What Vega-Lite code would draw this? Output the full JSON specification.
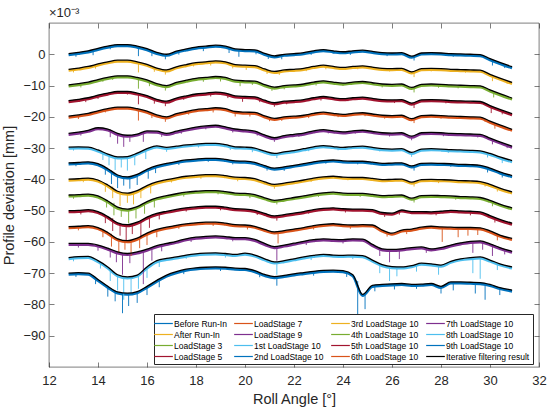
{
  "$schema": "https://vega.github.io/schema/vega-lite/v6.json",
  "width": 490,
  "height": 344,
  "autosize": {"type": "none"},
  "padding": {"left": 49, "top": 23, "right": 11, "bottom": 44},
  "background": "white",
  "title": {"text": "×10⁻³", "anchor": "start", "frame": "group", "offset": 3, "fontSize": 13, "fontWeight": "normal", "font": "Liberation Sans", "color": "#262626"},
  "datasets": {
    "names": [
      {"s": "a", "n": "Before Run-In"}, {"s": "b", "n": "After Run-In"}, {"s": "c", "n": "LoadStage 3"},
      {"s": "d", "n": "LoadStage 5"}, {"s": "e", "n": "LoadStage 7"}, {"s": "f", "n": "LoadStage 9"},
      {"s": "g", "n": "1st LoadStage 10"}, {"s": "h", "n": "2nd LoadStage 10"}, {"s": "i", "n": "3rd LoadStage 10"},
      {"s": "j", "n": "4th LoadStage 10"}, {"s": "k", "n": "5th LoadStage 10"}, {"s": "l", "n": "6th LoadStage 10"},
      {"s": "m", "n": "7th LoadStage 10"}, {"s": "n", "n": "8th LoadStage 10"}, {"s": "o", "n": "9th LoadStage 10"}
    ],
    "curves": [
      {"s":"a","x":12.8,"f":0.2},{"s":"a","x":13.2,"f":0.6},{"s":"a","x":13.6,"f":1.1},{"s":"a","x":14,"f":1.9},{"s":"a","x":14.4,"f":2.6},{"s":"a","x":14.8,"f":3.1},{"s":"a","x":15.2,"f":3.1},{"s":"a","x":15.6,"f":2.6},{"s":"a","x":16,"f":1.8},{"s":"a","x":16.4,"f":0.6},
      {"s":"a","x":16.8,"f":0.0},{"s":"a","x":17.2,"f":1.0},{"s":"a","x":17.6,"f":1.7},{"s":"a","x":18,"f":2.3},{"s":"a","x":18.4,"f":2.6},{"s":"a","x":18.8,"f":2.9},{"s":"a","x":19.2,"f":2.6},{"s":"a","x":19.6,"f":1.7},{"s":"a","x":20,"f":1.5},{"s":"a","x":20.4,"f":1.4},
      {"s":"a","x":20.8,"f":0.3},{"s":"a","x":21.2,"f":-0.5},{"s":"a","x":21.6,"f":0.0},{"s":"a","x":22,"f":0.2},{"s":"a","x":22.4,"f":0.5},{"s":"a","x":22.8,"f":1.1},{"s":"a","x":23.2,"f":1.5},{"s":"a","x":23.6,"f":1.1},{"s":"a","x":24,"f":0.8},{"s":"a","x":24.4,"f":1.1},
      {"s":"a","x":24.8,"f":1.3},{"s":"a","x":25.2,"f":0.9},{"s":"a","x":25.6,"f":0.5},{"s":"a","x":26,"f":0.4},{"s":"a","x":26.4,"f":0.5},{"s":"a","x":26.8,"f":-0.6},{"s":"a","x":27.2,"f":0.4},{"s":"a","x":27.6,"f":0.5},{"s":"a","x":28,"f":0.4},{"s":"a","x":28.4,"f":0.2},
      {"s":"a","x":28.8,"f":0.1},{"s":"a","x":29.2,"f":0.0},{"s":"a","x":29.6,"f":-0.1},{"s":"a","x":30,"f":-1.4},{"s":"a","x":30.4,"f":-2.6},{"s":"a","x":30.9,"f":-4.0},

      {"s":"b","x":12.8,"f":-4.8},{"s":"b","x":13.2,"f":-4.4},{"s":"b","x":13.6,"f":-3.9},{"s":"b","x":14,"f":-3.1},{"s":"b","x":14.4,"f":-2.4},{"s":"b","x":14.8,"f":-1.9},{"s":"b","x":15.2,"f":-1.9},{"s":"b","x":15.6,"f":-2.4},{"s":"b","x":16,"f":-3.2},{"s":"b","x":16.4,"f":-4.4},
      {"s":"b","x":16.8,"f":-5.0},{"s":"b","x":17.2,"f":-4.0},{"s":"b","x":17.6,"f":-3.3},{"s":"b","x":18,"f":-2.7},{"s":"b","x":18.4,"f":-2.4},{"s":"b","x":18.8,"f":-2.1},{"s":"b","x":19.2,"f":-2.4},{"s":"b","x":19.6,"f":-3.3},{"s":"b","x":20,"f":-3.5},{"s":"b","x":20.4,"f":-3.6},
      {"s":"b","x":20.8,"f":-4.7},{"s":"b","x":21.2,"f":-5.5},{"s":"b","x":21.6,"f":-5.0},{"s":"b","x":22,"f":-4.8},{"s":"b","x":22.4,"f":-4.5},{"s":"b","x":22.8,"f":-3.9},{"s":"b","x":23.2,"f":-3.5},{"s":"b","x":23.6,"f":-3.9},{"s":"b","x":24,"f":-4.2},{"s":"b","x":24.4,"f":-3.9},
      {"s":"b","x":24.8,"f":-3.7},{"s":"b","x":25.2,"f":-4.1},{"s":"b","x":25.6,"f":-4.5},{"s":"b","x":26,"f":-4.6},{"s":"b","x":26.4,"f":-4.5},{"s":"b","x":26.8,"f":-5.6},{"s":"b","x":27.2,"f":-4.6},{"s":"b","x":27.6,"f":-4.5},{"s":"b","x":28,"f":-4.6},{"s":"b","x":28.4,"f":-4.8},
      {"s":"b","x":28.8,"f":-4.9},{"s":"b","x":29.2,"f":-5.0},{"s":"b","x":29.6,"f":-5.1},{"s":"b","x":30,"f":-6.4},{"s":"b","x":30.4,"f":-7.6},{"s":"b","x":30.9,"f":-9.0},

      {"s":"c","x":12.8,"f":-9.8},{"s":"c","x":13.2,"f":-9.4},{"s":"c","x":13.6,"f":-8.9},{"s":"c","x":14,"f":-8.1},{"s":"c","x":14.4,"f":-7.4},{"s":"c","x":14.8,"f":-6.9},{"s":"c","x":15.2,"f":-6.9},{"s":"c","x":15.6,"f":-7.4},{"s":"c","x":16,"f":-8.2},{"s":"c","x":16.4,"f":-9.4},
      {"s":"c","x":16.8,"f":-10.0},{"s":"c","x":17.2,"f":-9.0},{"s":"c","x":17.6,"f":-8.3},{"s":"c","x":18,"f":-7.7},{"s":"c","x":18.4,"f":-7.4},{"s":"c","x":18.8,"f":-7.1},{"s":"c","x":19.2,"f":-7.4},{"s":"c","x":19.6,"f":-8.3},{"s":"c","x":20,"f":-8.5},{"s":"c","x":20.4,"f":-8.6},
      {"s":"c","x":20.8,"f":-9.7},{"s":"c","x":21.2,"f":-10.5},{"s":"c","x":21.6,"f":-10.0},{"s":"c","x":22,"f":-9.8},{"s":"c","x":22.4,"f":-9.5},{"s":"c","x":22.8,"f":-8.9},{"s":"c","x":23.2,"f":-8.5},{"s":"c","x":23.6,"f":-8.9},{"s":"c","x":24,"f":-9.2},{"s":"c","x":24.4,"f":-8.9},
      {"s":"c","x":24.8,"f":-8.7},{"s":"c","x":25.2,"f":-9.1},{"s":"c","x":25.6,"f":-9.5},{"s":"c","x":26,"f":-9.6},{"s":"c","x":26.4,"f":-9.5},{"s":"c","x":26.8,"f":-10.6},{"s":"c","x":27.2,"f":-9.6},{"s":"c","x":27.6,"f":-9.5},{"s":"c","x":28,"f":-9.6},{"s":"c","x":28.4,"f":-9.8},
      {"s":"c","x":28.8,"f":-9.9},{"s":"c","x":29.2,"f":-10.0},{"s":"c","x":29.6,"f":-10.1},{"s":"c","x":30,"f":-11.4},{"s":"c","x":30.4,"f":-12.6},{"s":"c","x":30.9,"f":-14.0},

      {"s":"d","x":12.8,"f":-14.8},{"s":"d","x":13.2,"f":-14.4},{"s":"d","x":13.6,"f":-13.9},{"s":"d","x":14,"f":-13.1},{"s":"d","x":14.4,"f":-12.4},{"s":"d","x":14.8,"f":-11.9},{"s":"d","x":15.2,"f":-11.9},{"s":"d","x":15.6,"f":-12.4},{"s":"d","x":16,"f":-13.2},{"s":"d","x":16.4,"f":-14.4},
      {"s":"d","x":16.8,"f":-15.0},{"s":"d","x":17.2,"f":-14.0},{"s":"d","x":17.6,"f":-13.3},{"s":"d","x":18,"f":-12.7},{"s":"d","x":18.4,"f":-12.4},{"s":"d","x":18.8,"f":-12.1},{"s":"d","x":19.2,"f":-12.4},{"s":"d","x":19.6,"f":-13.3},{"s":"d","x":20,"f":-13.5},{"s":"d","x":20.4,"f":-13.6},
      {"s":"d","x":20.8,"f":-14.7},{"s":"d","x":21.2,"f":-15.5},{"s":"d","x":21.6,"f":-15.0},{"s":"d","x":22,"f":-14.8},{"s":"d","x":22.4,"f":-14.5},{"s":"d","x":22.8,"f":-13.9},{"s":"d","x":23.2,"f":-13.5},{"s":"d","x":23.6,"f":-13.9},{"s":"d","x":24,"f":-14.2},{"s":"d","x":24.4,"f":-13.9},
      {"s":"d","x":24.8,"f":-13.7},{"s":"d","x":25.2,"f":-14.1},{"s":"d","x":25.6,"f":-14.5},{"s":"d","x":26,"f":-14.6},{"s":"d","x":26.4,"f":-14.5},{"s":"d","x":26.8,"f":-15.6},{"s":"d","x":27.2,"f":-14.6},{"s":"d","x":27.6,"f":-14.5},{"s":"d","x":28,"f":-14.6},{"s":"d","x":28.4,"f":-14.8},
      {"s":"d","x":28.8,"f":-14.9},{"s":"d","x":29.2,"f":-15.0},{"s":"d","x":29.6,"f":-15.1},{"s":"d","x":30,"f":-16.4},{"s":"d","x":30.4,"f":-17.6},{"s":"d","x":30.9,"f":-19.0},

      {"s":"e","x":12.8,"f":-19.8},{"s":"e","x":13.2,"f":-19.4},{"s":"e","x":13.6,"f":-18.9},{"s":"e","x":14,"f":-18.1},{"s":"e","x":14.4,"f":-17.4},{"s":"e","x":14.8,"f":-16.9},{"s":"e","x":15.2,"f":-16.9},{"s":"e","x":15.6,"f":-17.4},{"s":"e","x":16,"f":-18.2},{"s":"e","x":16.4,"f":-19.4},
      {"s":"e","x":16.8,"f":-20.0},{"s":"e","x":17.2,"f":-19.0},{"s":"e","x":17.6,"f":-18.3},{"s":"e","x":18,"f":-17.7},{"s":"e","x":18.4,"f":-17.4},{"s":"e","x":18.8,"f":-17.1},{"s":"e","x":19.2,"f":-17.4},{"s":"e","x":19.6,"f":-18.3},{"s":"e","x":20,"f":-18.5},{"s":"e","x":20.4,"f":-18.6},
      {"s":"e","x":20.8,"f":-19.7},{"s":"e","x":21.2,"f":-20.5},{"s":"e","x":21.6,"f":-20.0},{"s":"e","x":22,"f":-19.8},{"s":"e","x":22.4,"f":-19.5},{"s":"e","x":22.8,"f":-18.9},{"s":"e","x":23.2,"f":-18.5},{"s":"e","x":23.6,"f":-18.9},{"s":"e","x":24,"f":-19.2},{"s":"e","x":24.4,"f":-18.9},
      {"s":"e","x":24.8,"f":-18.7},{"s":"e","x":25.2,"f":-19.1},{"s":"e","x":25.6,"f":-19.5},{"s":"e","x":26,"f":-19.6},{"s":"e","x":26.4,"f":-19.5},{"s":"e","x":26.8,"f":-20.6},{"s":"e","x":27.2,"f":-19.6},{"s":"e","x":27.6,"f":-19.5},{"s":"e","x":28,"f":-19.6},{"s":"e","x":28.4,"f":-19.8},
      {"s":"e","x":28.8,"f":-19.9},{"s":"e","x":29.2,"f":-20.0},{"s":"e","x":29.6,"f":-20.1},{"s":"e","x":30,"f":-21.4},{"s":"e","x":30.4,"f":-22.6},{"s":"e","x":30.9,"f":-24.0},

      {"s":"f","x":12.8,"f":-25.3},{"s":"f","x":13.2,"f":-24.9},{"s":"f","x":13.6,"f":-24.3},{"s":"f","x":14,"f":-23.5},{"s":"f","x":14.4,"f":-23.9},{"s":"f","x":14.8,"f":-25.3},{"s":"f","x":15.2,"f":-25.9},{"s":"f","x":15.6,"f":-25.5},{"s":"f","x":16,"f":-24.5},{"s":"f","x":16.4,"f":-24.6},
      {"s":"f","x":16.8,"f":-25.3},{"s":"f","x":17.2,"f":-24.6},{"s":"f","x":17.6,"f":-23.9},{"s":"f","x":18,"f":-23.3},{"s":"f","x":18.4,"f":-22.9},{"s":"f","x":18.8,"f":-22.7},{"s":"f","x":19.2,"f":-23.2},{"s":"f","x":19.6,"f":-23.9},{"s":"f","x":20,"f":-24.2},{"s":"f","x":20.4,"f":-24.6},
      {"s":"f","x":20.8,"f":-25.8},{"s":"f","x":21.2,"f":-26.7},{"s":"f","x":21.6,"f":-26.0},{"s":"f","x":22,"f":-25.6},{"s":"f","x":22.4,"f":-25.2},{"s":"f","x":22.8,"f":-24.5},{"s":"f","x":23.2,"f":-24.1},{"s":"f","x":23.6,"f":-24.5},{"s":"f","x":24,"f":-24.8},{"s":"f","x":24.4,"f":-24.5},
      {"s":"f","x":24.8,"f":-24.3},{"s":"f","x":25.2,"f":-24.7},{"s":"f","x":25.6,"f":-25.1},{"s":"f","x":26,"f":-25.2},{"s":"f","x":26.4,"f":-25.1},{"s":"f","x":26.8,"f":-26.2},{"s":"f","x":27.2,"f":-25.1},{"s":"f","x":27.6,"f":-25.0},{"s":"f","x":28,"f":-25.1},{"s":"f","x":28.4,"f":-25.3},
      {"s":"f","x":28.8,"f":-25.4},{"s":"f","x":29.2,"f":-25.5},{"s":"f","x":29.6,"f":-25.6},{"s":"f","x":30,"f":-26.8},{"s":"f","x":30.4,"f":-28.0},{"s":"f","x":30.9,"f":-29.4},

      {"s":"g","x":12.8,"f":-29.7},{"s":"g","x":13.2,"f":-29.6},{"s":"g","x":13.6,"f":-29.7},{"s":"g","x":14,"f":-30.6},{"s":"g","x":14.4,"f":-31.9},{"s":"g","x":14.8,"f":-32.8},{"s":"g","x":15.2,"f":-32.7},{"s":"g","x":15.6,"f":-31.6},{"s":"g","x":16,"f":-30.2},{"s":"g","x":16.4,"f":-29.3},
      {"s":"g","x":16.8,"f":-29.8},{"s":"g","x":17.2,"f":-29.4},{"s":"g","x":17.6,"f":-29.0},{"s":"g","x":18,"f":-28.7},{"s":"g","x":18.4,"f":-28.5},{"s":"g","x":18.8,"f":-28.5},{"s":"g","x":19.2,"f":-28.9},{"s":"g","x":19.6,"f":-29.6},{"s":"g","x":20,"f":-29.7},{"s":"g","x":20.4,"f":-30.0},
      {"s":"g","x":20.8,"f":-31.0},{"s":"g","x":21.2,"f":-31.7},{"s":"g","x":21.6,"f":-31.2},{"s":"g","x":22,"f":-30.8},{"s":"g","x":22.4,"f":-30.2},{"s":"g","x":22.8,"f":-29.6},{"s":"g","x":23.2,"f":-29.2},{"s":"g","x":23.6,"f":-29.5},{"s":"g","x":24,"f":-29.8},{"s":"g","x":24.4,"f":-29.5},
      {"s":"g","x":24.8,"f":-29.4},{"s":"g","x":25.2,"f":-29.8},{"s":"g","x":25.6,"f":-30.2},{"s":"g","x":26,"f":-30.3},{"s":"g","x":26.4,"f":-30.2},{"s":"g","x":26.8,"f":-31.4},{"s":"g","x":27.2,"f":-30.3},{"s":"g","x":27.6,"f":-30.2},{"s":"g","x":28,"f":-30.3},{"s":"g","x":28.4,"f":-30.5},
      {"s":"g","x":28.8,"f":-30.6},{"s":"g","x":29.2,"f":-30.7},{"s":"g","x":29.6,"f":-30.9},{"s":"g","x":30,"f":-31.7},{"s":"g","x":30.4,"f":-32.8},{"s":"g","x":30.9,"f":-34.0},

      {"s":"h","x":12.8,"f":-34.7},{"s":"h","x":13.2,"f":-34.6},{"s":"h","x":13.6,"f":-34.4},{"s":"h","x":14,"f":-35.0},{"s":"h","x":14.4,"f":-36.6},{"s":"h","x":14.8,"f":-38.6},{"s":"h","x":15.2,"f":-39.2},{"s":"h","x":15.6,"f":-38.4},{"s":"h","x":16,"f":-36.8},{"s":"h","x":16.4,"f":-35.6},
      {"s":"h","x":16.8,"f":-34.9},{"s":"h","x":17.2,"f":-34.3},{"s":"h","x":17.6,"f":-33.8},{"s":"h","x":18,"f":-33.5},{"s":"h","x":18.4,"f":-33.3},{"s":"h","x":18.8,"f":-33.3},{"s":"h","x":19.2,"f":-33.6},{"s":"h","x":19.6,"f":-34.1},{"s":"h","x":20,"f":-34.2},{"s":"h","x":20.4,"f":-34.6},
      {"s":"h","x":20.8,"f":-35.6},{"s":"h","x":21.2,"f":-36.4},{"s":"h","x":21.6,"f":-36.0},{"s":"h","x":22,"f":-35.5},{"s":"h","x":22.4,"f":-35.0},{"s":"h","x":22.8,"f":-34.4},{"s":"h","x":23.2,"f":-34.0},{"s":"h","x":23.6,"f":-33.8},{"s":"h","x":24,"f":-34.1},{"s":"h","x":24.4,"f":-34.2},
      {"s":"h","x":24.8,"f":-34.2},{"s":"h","x":25.2,"f":-34.5},{"s":"h","x":25.6,"f":-34.9},{"s":"h","x":26,"f":-34.8},{"s":"h","x":26.4,"f":-34.7},{"s":"h","x":26.8,"f":-35.7},{"s":"h","x":27.2,"f":-34.9},{"s":"h","x":27.6,"f":-34.8},{"s":"h","x":28,"f":-34.9},{"s":"h","x":28.4,"f":-35.0},
      {"s":"h","x":28.8,"f":-35.2},{"s":"h","x":29.2,"f":-35.3},{"s":"h","x":29.6,"f":-35.5},{"s":"h","x":30,"f":-36.4},{"s":"h","x":30.4,"f":-37.6},{"s":"h","x":30.9,"f":-38.8},

      {"s":"i","x":12.8,"f":-39.9},{"s":"i","x":13.2,"f":-39.8},{"s":"i","x":13.6,"f":-39.6},{"s":"i","x":14,"f":-40.2},{"s":"i","x":14.4,"f":-41.8},{"s":"i","x":14.8,"f":-43.8},{"s":"i","x":15.2,"f":-44.4},{"s":"i","x":15.6,"f":-43.6},{"s":"i","x":16,"f":-42.0},{"s":"i","x":16.4,"f":-40.8},
      {"s":"i","x":16.8,"f":-40.1},{"s":"i","x":17.2,"f":-39.5},{"s":"i","x":17.6,"f":-39.0},{"s":"i","x":18,"f":-38.7},{"s":"i","x":18.4,"f":-38.5},{"s":"i","x":18.8,"f":-38.5},{"s":"i","x":19.2,"f":-38.8},{"s":"i","x":19.6,"f":-39.3},{"s":"i","x":20,"f":-39.4},{"s":"i","x":20.4,"f":-39.8},
      {"s":"i","x":20.8,"f":-40.8},{"s":"i","x":21.2,"f":-41.6},{"s":"i","x":21.6,"f":-41.2},{"s":"i","x":22,"f":-40.7},{"s":"i","x":22.4,"f":-40.2},{"s":"i","x":22.8,"f":-39.6},{"s":"i","x":23.2,"f":-39.2},{"s":"i","x":23.6,"f":-39.0},{"s":"i","x":24,"f":-39.3},{"s":"i","x":24.4,"f":-39.4},
      {"s":"i","x":24.8,"f":-39.4},{"s":"i","x":25.2,"f":-39.7},{"s":"i","x":25.6,"f":-40.1},{"s":"i","x":26,"f":-40.0},{"s":"i","x":26.4,"f":-39.9},{"s":"i","x":26.8,"f":-40.9},{"s":"i","x":27.2,"f":-40.1},{"s":"i","x":27.6,"f":-40.0},{"s":"i","x":28,"f":-40.1},{"s":"i","x":28.4,"f":-40.2},
      {"s":"i","x":28.8,"f":-40.4},{"s":"i","x":29.2,"f":-40.5},{"s":"i","x":29.6,"f":-40.7},{"s":"i","x":30,"f":-41.6},{"s":"i","x":30.4,"f":-42.8},{"s":"i","x":30.9,"f":-44.0},

      {"s":"j","x":12.8,"f":-45.0},{"s":"j","x":13.2,"f":-44.9},{"s":"j","x":13.6,"f":-44.7},{"s":"j","x":14,"f":-45.3},{"s":"j","x":14.4,"f":-46.9},{"s":"j","x":14.8,"f":-48.9},{"s":"j","x":15.2,"f":-49.5},{"s":"j","x":15.6,"f":-48.7},{"s":"j","x":16,"f":-47.1},{"s":"j","x":16.4,"f":-45.9},
      {"s":"j","x":16.8,"f":-45.2},{"s":"j","x":17.2,"f":-44.6},{"s":"j","x":17.6,"f":-44.1},{"s":"j","x":18,"f":-43.8},{"s":"j","x":18.4,"f":-43.6},{"s":"j","x":18.8,"f":-43.6},{"s":"j","x":19.2,"f":-43.9},{"s":"j","x":19.6,"f":-44.4},{"s":"j","x":20,"f":-44.5},{"s":"j","x":20.4,"f":-44.9},
      {"s":"j","x":20.8,"f":-45.9},{"s":"j","x":21.2,"f":-46.7},{"s":"j","x":21.6,"f":-46.3},{"s":"j","x":22,"f":-45.8},{"s":"j","x":22.4,"f":-45.3},{"s":"j","x":22.8,"f":-44.7},{"s":"j","x":23.2,"f":-44.3},{"s":"j","x":23.6,"f":-44.1},{"s":"j","x":24,"f":-44.4},{"s":"j","x":24.4,"f":-44.5},
      {"s":"j","x":24.8,"f":-44.5},{"s":"j","x":25.2,"f":-44.8},{"s":"j","x":25.6,"f":-45.2},{"s":"j","x":26,"f":-45.1},{"s":"j","x":26.4,"f":-45.0},{"s":"j","x":26.8,"f":-46.0},{"s":"j","x":27.2,"f":-45.2},{"s":"j","x":27.6,"f":-45.1},{"s":"j","x":28,"f":-45.2},{"s":"j","x":28.4,"f":-45.3},
      {"s":"j","x":28.8,"f":-45.5},{"s":"j","x":29.2,"f":-45.6},{"s":"j","x":29.6,"f":-45.8},{"s":"j","x":30,"f":-46.7},{"s":"j","x":30.4,"f":-47.9},{"s":"j","x":30.9,"f":-49.1},

      {"s":"k","x":12.8,"f":-50.0},{"s":"k","x":13.2,"f":-49.9},{"s":"k","x":13.6,"f":-49.7},{"s":"k","x":14,"f":-50.3},{"s":"k","x":14.4,"f":-51.9},{"s":"k","x":14.8,"f":-53.9},{"s":"k","x":15.2,"f":-54.5},{"s":"k","x":15.6,"f":-53.7},{"s":"k","x":16,"f":-52.1},{"s":"k","x":16.4,"f":-50.9},
      {"s":"k","x":16.8,"f":-50.2},{"s":"k","x":17.2,"f":-49.6},{"s":"k","x":17.6,"f":-49.1},{"s":"k","x":18,"f":-48.8},{"s":"k","x":18.4,"f":-48.6},{"s":"k","x":18.8,"f":-48.6},{"s":"k","x":19.2,"f":-48.9},{"s":"k","x":19.6,"f":-49.4},{"s":"k","x":20,"f":-49.5},{"s":"k","x":20.4,"f":-49.9},
      {"s":"k","x":20.8,"f":-50.9},{"s":"k","x":21.2,"f":-51.7},{"s":"k","x":21.6,"f":-51.3},{"s":"k","x":22,"f":-50.8},{"s":"k","x":22.4,"f":-50.3},{"s":"k","x":22.8,"f":-49.7},{"s":"k","x":23.2,"f":-49.3},{"s":"k","x":23.6,"f":-49.1},{"s":"k","x":24,"f":-49.4},{"s":"k","x":24.4,"f":-49.5},
      {"s":"k","x":24.8,"f":-49.5},{"s":"k","x":25.2,"f":-49.7},{"s":"k","x":25.6,"f":-50.6},{"s":"k","x":26,"f":-50.8},{"s":"k","x":26.4,"f":-49.8},{"s":"k","x":26.8,"f":-50.3},{"s":"k","x":27.2,"f":-50.3},{"s":"k","x":27.6,"f":-50.4},{"s":"k","x":28,"f":-50.2},{"s":"k","x":28.4,"f":-49.9},
      {"s":"k","x":28.8,"f":-50.1},{"s":"k","x":29.2,"f":-50.2},{"s":"k","x":29.6,"f":-50.4},{"s":"k","x":30,"f":-51.6},{"s":"k","x":30.4,"f":-52.8},{"s":"k","x":30.9,"f":-54.0},

      {"s":"l","x":12.8,"f":-55.1},{"s":"l","x":13.2,"f":-55.0},{"s":"l","x":13.6,"f":-54.8},{"s":"l","x":14,"f":-55.4},{"s":"l","x":14.4,"f":-57.0},{"s":"l","x":14.8,"f":-59.0},{"s":"l","x":15.2,"f":-59.6},{"s":"l","x":15.6,"f":-58.8},{"s":"l","x":16,"f":-57.2},{"s":"l","x":16.4,"f":-56.0},
      {"s":"l","x":16.8,"f":-55.3},{"s":"l","x":17.2,"f":-54.7},{"s":"l","x":17.6,"f":-54.2},{"s":"l","x":18,"f":-53.9},{"s":"l","x":18.4,"f":-53.7},{"s":"l","x":18.8,"f":-53.7},{"s":"l","x":19.2,"f":-54.0},{"s":"l","x":19.6,"f":-54.5},{"s":"l","x":20,"f":-54.6},{"s":"l","x":20.4,"f":-55.0},
      {"s":"l","x":20.8,"f":-56.0},{"s":"l","x":21.2,"f":-56.8},{"s":"l","x":21.6,"f":-56.4},{"s":"l","x":22,"f":-55.9},{"s":"l","x":22.4,"f":-55.4},{"s":"l","x":22.8,"f":-54.8},{"s":"l","x":23.2,"f":-54.4},{"s":"l","x":23.6,"f":-54.2},{"s":"l","x":24,"f":-54.5},{"s":"l","x":24.4,"f":-54.6},
      {"s":"l","x":24.8,"f":-54.5},{"s":"l","x":25.2,"f":-54.6},{"s":"l","x":25.6,"f":-56.2},{"s":"l","x":26,"f":-57.2},{"s":"l","x":26.4,"f":-56.2},{"s":"l","x":26.8,"f":-55.9},{"s":"l","x":27.2,"f":-55.3},{"s":"l","x":27.6,"f":-55.0},{"s":"l","x":28,"f":-55.2},{"s":"l","x":28.4,"f":-55.3},
      {"s":"l","x":28.8,"f":-55.4},{"s":"l","x":29.2,"f":-55.4},{"s":"l","x":29.6,"f":-55.5},{"s":"l","x":30,"f":-56.5},{"s":"l","x":30.4,"f":-57.8},{"s":"l","x":30.9,"f":-58.9},

      {"s":"m","x":12.8,"f":-60.5},{"s":"m","x":13.2,"f":-60.5},{"s":"m","x":13.6,"f":-60.5},{"s":"m","x":14,"f":-61.0},{"s":"m","x":14.4,"f":-62.0},{"s":"m","x":14.8,"f":-63.2},{"s":"m","x":15.2,"f":-63.7},{"s":"m","x":15.6,"f":-63.2},{"s":"m","x":16,"f":-62.3},{"s":"m","x":16.4,"f":-61.2},
      {"s":"m","x":16.8,"f":-60.5},{"s":"m","x":17.2,"f":-59.8},{"s":"m","x":17.6,"f":-59.0},{"s":"m","x":18,"f":-58.5},{"s":"m","x":18.4,"f":-58.2},{"s":"m","x":18.8,"f":-58.1},{"s":"m","x":19.2,"f":-58.3},{"s":"m","x":19.6,"f":-58.6},{"s":"m","x":20,"f":-58.6},{"s":"m","x":20.4,"f":-59.2},
      {"s":"m","x":20.8,"f":-60.5},{"s":"m","x":21.2,"f":-61.5},{"s":"m","x":21.6,"f":-61.0},{"s":"m","x":22,"f":-60.4},{"s":"m","x":22.4,"f":-59.8},{"s":"m","x":22.8,"f":-59.3},{"s":"m","x":23.2,"f":-59.0},{"s":"m","x":23.6,"f":-59.2},{"s":"m","x":24,"f":-59.3},{"s":"m","x":24.4,"f":-59.0},
      {"s":"m","x":24.8,"f":-59.1},{"s":"m","x":25.2,"f":-60.8},{"s":"m","x":25.6,"f":-62.2},{"s":"m","x":26,"f":-62.4},{"s":"m","x":26.4,"f":-62.2},{"s":"m","x":26.8,"f":-61.8},{"s":"m","x":27.2,"f":-61.6},{"s":"m","x":27.6,"f":-62.2},{"s":"m","x":28,"f":-61.8},{"s":"m","x":28.4,"f":-61.0},
      {"s":"m","x":28.8,"f":-60.3},{"s":"m","x":29.2,"f":-59.8},{"s":"m","x":29.6,"f":-59.7},{"s":"m","x":30,"f":-60.6},{"s":"m","x":30.4,"f":-61.8},{"s":"m","x":30.9,"f":-63.0},

      {"s":"n","x":12.8,"f":-65.0},{"s":"n","x":13.2,"f":-64.7},{"s":"n","x":13.6,"f":-64.6},{"s":"n","x":14,"f":-66.0},{"s":"n","x":14.4,"f":-68.0},{"s":"n","x":14.8,"f":-70.5},{"s":"n","x":15.2,"f":-71.2},{"s":"n","x":15.6,"f":-70.6},{"s":"n","x":16,"f":-68.0},{"s":"n","x":16.4,"f":-66.0},
      {"s":"n","x":16.8,"f":-65.3},{"s":"n","x":17.2,"f":-64.8},{"s":"n","x":17.6,"f":-64.2},{"s":"n","x":18,"f":-63.8},{"s":"n","x":18.4,"f":-63.6},{"s":"n","x":18.8,"f":-63.5},{"s":"n","x":19.2,"f":-63.7},{"s":"n","x":19.6,"f":-64.0},{"s":"n","x":20,"f":-63.6},{"s":"n","x":20.4,"f":-64.2},
      {"s":"n","x":20.8,"f":-65.4},{"s":"n","x":21.2,"f":-66.4},{"s":"n","x":21.6,"f":-66.0},{"s":"n","x":22,"f":-65.4},{"s":"n","x":22.4,"f":-64.8},{"s":"n","x":22.8,"f":-64.3},{"s":"n","x":23.2,"f":-64.0},{"s":"n","x":23.6,"f":-64.2},{"s":"n","x":24,"f":-64.3},{"s":"n","x":24.4,"f":-64.2},
      {"s":"n","x":24.8,"f":-64.4},{"s":"n","x":25.2,"f":-65.8},{"s":"n","x":25.6,"f":-67.3},{"s":"n","x":26,"f":-67.9},{"s":"n","x":26.4,"f":-68.0},{"s":"n","x":26.8,"f":-67.6},{"s":"n","x":27.2,"f":-66.8},{"s":"n","x":27.6,"f":-67.0},{"s":"n","x":28,"f":-67.4},{"s":"n","x":28.4,"f":-66.2},
      {"s":"n","x":28.8,"f":-65.4},{"s":"n","x":29.2,"f":-65.0},{"s":"n","x":29.6,"f":-64.8},{"s":"n","x":30,"f":-65.8},{"s":"n","x":30.4,"f":-67.0},{"s":"n","x":30.9,"f":-68.0},

      {"s":"o","x":12.8,"f":-70.0},{"s":"o","x":13.2,"f":-69.8},{"s":"o","x":13.6,"f":-70.0},{"s":"o","x":14,"f":-72.0},{"s":"o","x":14.4,"f":-74.2},{"s":"o","x":14.8,"f":-76.0},{"s":"o","x":15.2,"f":-76.4},{"s":"o","x":15.6,"f":-75.9},{"s":"o","x":16,"f":-74.2},{"s":"o","x":16.4,"f":-72.3},
      {"s":"o","x":16.8,"f":-70.6},{"s":"o","x":17.2,"f":-69.5},{"s":"o","x":17.6,"f":-68.7},{"s":"o","x":18,"f":-68.3},{"s":"o","x":18.4,"f":-68.1},{"s":"o","x":18.8,"f":-68.0},{"s":"o","x":19.2,"f":-68.1},{"s":"o","x":19.6,"f":-68.4},{"s":"o","x":20,"f":-68.5},{"s":"o","x":20.4,"f":-69.2},
      {"s":"o","x":20.8,"f":-70.4},{"s":"o","x":21.2,"f":-71.1},{"s":"o","x":21.6,"f":-70.7},{"s":"o","x":22,"f":-70.2},{"s":"o","x":22.4,"f":-69.8},{"s":"o","x":22.8,"f":-69.4},{"s":"o","x":23.2,"f":-69.1},{"s":"o","x":23.6,"f":-69.0},{"s":"o","x":24,"f":-69.2},{"s":"o","x":24.4,"f":-70.5},
      {"s":"o","x":24.8,"f":-76.8},{"s":"o","x":25.2,"f":-73.9},{"s":"o","x":25.6,"f":-73.6},{"s":"o","x":26,"f":-73.4},{"s":"o","x":26.4,"f":-73.3},{"s":"o","x":26.8,"f":-73.6},{"s":"o","x":27.2,"f":-73.5},{"s":"o","x":27.6,"f":-73.3},{"s":"o","x":28,"f":-74.2},{"s":"o","x":28.4,"f":-72.8},
      {"s":"o","x":28.8,"f":-72.8},{"s":"o","x":29.2,"f":-72.9},{"s":"o","x":29.6,"f":-73.0},{"s":"o","x":30,"f":-73.6},{"s":"o","x":30.4,"f":-74.6},{"s":"o","x":30.9,"f":-75.4}
    ],
    "spikes": [
      {"s":"a","x":13.1,"t":0.4,"b":-0.8},{"s":"a","x":13.8,"t":1.4,"b":-0.3},{"s":"a","x":14.5,"t":2.7,"b":1.6},{"s":"a","x":15.65,"t":2.5,"b":-0.6},{"s":"a","x":16.2,"t":1.1,"b":-0.6},{"s":"a","x":16.75,"t":-0.1,"b":-1.6},{"s":"a","x":17.3,"t":1.0,"b":-0.1},{"s":"a","x":18.3,"t":2.4,"b":1.0},{"s":"a","x":19.35,"t":2.3,"b":0.4},{"s":"a","x":19.75,"t":1.5,"b":-0.8},{"s":"a","x":20.45,"t":1.3,"b":0.0},{"s":"a","x":20.95,"t":-0.1,"b":-1.5},{"s":"a","x":21.5,"t":-0.2,"b":-1.6},{"s":"a","x":22.7,"t":0.9,"b":-0.2},{"s":"a","x":23.6,"t":1.1,"b":0.2},{"s":"a","x":24.3,"t":1.0,"b":-0.2},{"s":"a","x":25.8,"t":0.4,"b":-0.6},{"s":"a","x":26.9,"t":-0.8,"b":-2.0},{"s":"a","x":28.5,"t":0.2,"b":-0.8},{"s":"a","x":30.1,"t":-1.6,"b":-3.6},{"s":"a","x":30.6,"t":-3.2,"b":-4.4},
      {"s":"b","x":13.0,"t":-4.6,"b":-5.8},{"s":"b","x":13.9,"t":-3.5,"b":-4.6},{"s":"b","x":15.65,"t":-2.5,"b":-5.8},{"s":"b","x":16.3,"t":-4.0,"b":-5.6},{"s":"b","x":16.75,"t":-5.1,"b":-6.5},{"s":"b","x":17.9,"t":-2.8,"b":-3.9},{"s":"b","x":18.6,"t":-2.3,"b":-3.6},{"s":"b","x":19.5,"t":-3.0,"b":-4.5},{"s":"b","x":20.05,"t":-3.5,"b":-5.0},{"s":"b","x":20.9,"t":-4.9,"b":-6.3},{"s":"b","x":21.4,"t":-5.3,"b":-6.6},{"s":"b","x":22.5,"t":-4.3,"b":-5.4},{"s":"b","x":23.3,"t":-3.5,"b":-4.8},{"s":"b","x":24.6,"t":-3.8,"b":-4.8},{"s":"b","x":25.9,"t":-4.6,"b":-5.5},{"s":"b","x":26.9,"t":-5.7,"b":-7.3},{"s":"b","x":27.6,"t":-4.5,"b":-5.5},{"s":"b","x":29.0,"t":-5.0,"b":-5.9},{"s":"b","x":30.1,"t":-6.6,"b":-8.6},{"s":"b","x":30.7,"t":-8.6,"b":-9.5},
      {"s":"c","x":13.3,"t":-9.3,"b":-10.6},{"s":"c","x":14.2,"t":-7.8,"b":-8.8},{"s":"c","x":14.6,"t":-7.2,"b":-8.2},{"s":"c","x":15.65,"t":-7.5,"b":-11.0},{"s":"c","x":16.1,"t":-8.5,"b":-10.2},{"s":"c","x":16.75,"t":-10.1,"b":-11.6},{"s":"c","x":18.3,"t":-7.6,"b":-8.8},{"s":"c","x":19.0,"t":-7.2,"b":-8.7},{"s":"c","x":19.8,"t":-8.5,"b":-10.2},{"s":"c","x":20.3,"t":-8.6,"b":-9.8},{"s":"c","x":21.1,"t":-10.4,"b":-11.7},{"s":"c","x":21.6,"t":-10.0,"b":-11.2},{"s":"c","x":22.9,"t":-8.8,"b":-10.0},{"s":"c","x":24.0,"t":-9.2,"b":-10.1},{"s":"c","x":25.6,"t":-9.5,"b":-10.6},{"s":"c","x":26.9,"t":-10.7,"b":-12.2},{"s":"c","x":27.9,"t":-9.6,"b":-10.7},{"s":"c","x":28.7,"t":-9.9,"b":-10.9},{"s":"c","x":30.15,"t":-11.8,"b":-13.8},
      {"s":"d","x":13.5,"t":-14.0,"b":-15.3},{"s":"d","x":14.0,"t":-13.1,"b":-14.3},{"s":"d","x":15.2,"t":-11.9,"b":-12.9},{"s":"d","x":15.65,"t":-12.5,"b":-16.0},{"s":"d","x":16.3,"t":-14.1,"b":-15.8},{"s":"d","x":16.75,"t":-15.1,"b":-16.6},{"s":"d","x":17.5,"t":-13.5,"b":-14.6},{"s":"d","x":18.6,"t":-12.3,"b":-13.5},{"s":"d","x":19.3,"t":-12.6,"b":-14.0},{"s":"d","x":19.9,"t":-13.5,"b":-15.2},{"s":"d","x":20.6,"t":-14.0,"b":-15.3},{"s":"d","x":21.2,"t":-15.5,"b":-16.8},{"s":"d","x":21.7,"t":-14.9,"b":-16.0},{"s":"d","x":23.1,"t":-13.6,"b":-14.8},{"s":"d","x":24.2,"t":-14.0,"b":-15.0},{"s":"d","x":26.1,"t":-14.6,"b":-15.6},{"s":"d","x":26.9,"t":-15.7,"b":-17.2},{"s":"d","x":28.2,"t":-14.7,"b":-15.7},{"s":"d","x":30.05,"t":-16.5,"b":-18.8},{"s":"d","x":30.5,"t":-17.9,"b":-19.2},
      {"s":"e","x":13.2,"t":-19.4,"b":-20.7},{"s":"e","x":14.3,"t":-17.6,"b":-18.6},{"s":"e","x":15.65,"t":-17.5,"b":-21.2},{"s":"e","x":16.2,"t":-18.9,"b":-20.4},{"s":"e","x":16.75,"t":-20.1,"b":-21.6},{"s":"e","x":17.7,"t":-18.2,"b":-19.3},{"s":"e","x":18.7,"t":-17.2,"b":-18.6},{"s":"e","x":19.6,"t":-18.3,"b":-19.9},{"s":"e","x":20.2,"t":-18.5,"b":-19.9},{"s":"e","x":21.0,"t":-20.2,"b":-21.4},{"s":"e","x":21.5,"t":-20.1,"b":-21.3},{"s":"e","x":22.6,"t":-19.3,"b":-20.4},{"s":"e","x":23.8,"t":-19.0,"b":-20.1},{"s":"e","x":24.9,"t":-18.7,"b":-19.8},{"s":"e","x":25.7,"t":-19.5,"b":-20.6},{"s":"e","x":26.9,"t":-20.6,"b":-22.0},{"s":"e","x":28.0,"t":-19.6,"b":-20.6},{"s":"e","x":29.8,"t":-20.6,"b":-21.6},{"s":"e","x":30.2,"t":-22.0,"b":-23.8},
      {"s":"f","x":13.3,"t":-24.8,"b":-26.0},{"s":"f","x":14.5,"t":-24.2,"b":-26.5},{"s":"f","x":14.8,"t":-25.3,"b":-28.6},{"s":"f","x":15.05,"t":-25.7,"b":-29.6},{"s":"f","x":15.3,"t":-25.8,"b":-28.0},{"s":"f","x":15.85,"t":-25.0,"b":-28.0},{"s":"f","x":16.6,"t":-25.0,"b":-26.4},{"s":"f","x":17.4,"t":-24.3,"b":-25.4},{"s":"f","x":18.4,"t":-22.9,"b":-24.0},{"s":"f","x":19.5,"t":-23.7,"b":-25.0},{"s":"f","x":20.5,"t":-24.8,"b":-26.0},{"s":"f","x":21.2,"t":-26.7,"b":-28.0},{"s":"f","x":22.2,"t":-25.4,"b":-26.4},{"s":"f","x":23.4,"t":-24.3,"b":-25.3},{"s":"f","x":24.5,"t":-24.4,"b":-25.4},{"s":"f","x":25.9,"t":-25.2,"b":-26.3},{"s":"f","x":26.8,"t":-26.2,"b":-27.5},{"s":"f","x":28.1,"t":-25.1,"b":-26.2},{"s":"f","x":29.5,"t":-25.6,"b":-26.6},{"s":"f","x":30.1,"t":-27.1,"b":-28.8},{"s":"f","x":30.7,"t":-29.0,"b":-30.0},
      {"s":"g","x":13.0,"t":-29.7,"b":-30.8},{"s":"g","x":14.2,"t":-31.3,"b":-33.8},{"s":"g","x":14.45,"t":-31.9,"b":-35.5},{"s":"g","x":14.7,"t":-32.6,"b":-37.0},{"s":"g","x":14.95,"t":-32.8,"b":-36.2},{"s":"g","x":15.2,"t":-32.7,"b":-37.2},{"s":"g","x":15.5,"t":-31.9,"b":-35.5},{"s":"g","x":15.95,"t":-30.3,"b":-33.5},{"s":"g","x":16.8,"t":-29.8,"b":-31.2},{"s":"g","x":18.1,"t":-28.7,"b":-29.8},{"s":"g","x":19.4,"t":-29.2,"b":-30.6},{"s":"g","x":20.3,"t":-29.9,"b":-31.3},{"s":"g","x":21.3,"t":-31.6,"b":-33.2},{"s":"g","x":22.6,"t":-29.9,"b":-31.0},{"s":"g","x":23.8,"t":-29.6,"b":-30.7},{"s":"g","x":25.5,"t":-30.1,"b":-31.1},{"s":"g","x":26.8,"t":-31.4,"b":-32.8},{"s":"g","x":28.3,"t":-30.5,"b":-31.5},{"s":"g","x":29.9,"t":-31.5,"b":-33.0},{"s":"g","x":30.5,"t":-33.1,"b":-34.8},
      {"s":"h","x":13.1,"t":-34.6,"b":-35.8},{"s":"h","x":14.3,"t":-36.2,"b":-38.5},{"s":"h","x":14.55,"t":-37.2,"b":-41.5},{"s":"h","x":14.8,"t":-38.6,"b":-42.8},{"s":"h","x":15.05,"t":-39.0,"b":-42.0},{"s":"h","x":15.3,"t":-39.1,"b":-43.0},{"s":"h","x":15.6,"t":-38.4,"b":-41.8},{"s":"h","x":16.05,"t":-36.6,"b":-39.8},{"s":"h","x":16.35,"t":-35.7,"b":-38.0},{"s":"h","x":17.3,"t":-34.2,"b":-35.4},{"s":"h","x":18.5,"t":-33.3,"b":-34.4},{"s":"h","x":19.5,"t":-34.0,"b":-35.2},{"s":"h","x":20.9,"t":-35.8,"b":-37.2},{"s":"h","x":21.6,"t":-36.0,"b":-37.3},{"s":"h","x":23.3,"t":-33.9,"b":-35.0},{"s":"h","x":24.6,"t":-34.2,"b":-35.2},{"s":"h","x":26.9,"t":-35.6,"b":-37.2},{"s":"h","x":28.4,"t":-35.0,"b":-36.0},{"s":"h","x":29.9,"t":-36.2,"b":-37.8},{"s":"h","x":30.5,"t":-37.9,"b":-39.4},
      {"s":"i","x":13.4,"t":-39.7,"b":-40.9},{"s":"i","x":14.3,"t":-41.4,"b":-44.0},{"s":"i","x":14.6,"t":-42.3,"b":-46.0},{"s":"i","x":14.9,"t":-44.0,"b":-48.5},{"s":"i","x":15.2,"t":-44.4,"b":-47.5},{"s":"i","x":15.45,"t":-44.0,"b":-48.0},{"s":"i","x":15.75,"t":-43.2,"b":-46.0},{"s":"i","x":16.15,"t":-41.6,"b":-44.5},{"s":"i","x":17.0,"t":-39.8,"b":-41.0},{"s":"i","x":18.2,"t":-38.6,"b":-39.8},{"s":"i","x":19.7,"t":-39.3,"b":-40.6},{"s":"i","x":21.2,"t":-41.6,"b":-43.0},{"s":"i","x":22.7,"t":-39.7,"b":-40.8},{"s":"i","x":24.2,"t":-39.3,"b":-40.3},{"s":"i","x":26.9,"t":-40.7,"b":-42.3},{"s":"i","x":27.9,"t":-40.1,"b":-41.2},{"s":"i","x":29.8,"t":-41.0,"b":-42.3},{"s":"i","x":30.3,"t":-42.5,"b":-43.9},
      {"s":"j","x":13.0,"t":-45.0,"b":-46.2},{"s":"j","x":14.35,"t":-46.7,"b":-49.0},{"s":"j","x":14.65,"t":-47.5,"b":-51.5},{"s":"j","x":14.95,"t":-49.1,"b":-52.0},{"s":"j","x":15.25,"t":-49.5,"b":-54.0},{"s":"j","x":15.55,"t":-48.9,"b":-52.5},{"s":"j","x":15.9,"t":-47.5,"b":-51.0},{"s":"j","x":16.3,"t":-46.2,"b":-49.0},{"s":"j","x":17.5,"t":-44.2,"b":-45.5},{"s":"j","x":18.9,"t":-43.6,"b":-44.8},{"s":"j","x":20.2,"t":-44.7,"b":-46.0},{"s":"j","x":21.3,"t":-46.6,"b":-48.0},{"s":"j","x":23.0,"t":-44.5,"b":-45.6},{"s":"j","x":24.7,"t":-44.5,"b":-45.6},{"s":"j","x":26.9,"t":-45.8,"b":-47.4},{"s":"j","x":28.6,"t":-45.4,"b":-46.5},{"s":"j","x":30.1,"t":-47.0,"b":-48.6},
      {"s":"k","x":13.3,"t":-49.9,"b":-51.2},{"s":"k","x":14.3,"t":-51.5,"b":-54.0},{"s":"k","x":14.6,"t":-52.4,"b":-56.5},{"s":"k","x":14.9,"t":-54.1,"b":-58.0},{"s":"k","x":15.15,"t":-54.5,"b":-59.5},{"s":"k","x":15.4,"t":-54.2,"b":-57.5},{"s":"k","x":15.75,"t":-53.3,"b":-58.8},{"s":"k","x":16.1,"t":-51.8,"b":-55.5},{"s":"k","x":16.5,"t":-50.7,"b":-52.8},{"s":"k","x":17.6,"t":-49.1,"b":-50.3},{"s":"k","x":19.0,"t":-48.7,"b":-49.9},{"s":"k","x":20.5,"t":-50.1,"b":-51.4},{"s":"k","x":21.3,"t":-51.6,"b":-53.2},{"s":"k","x":22.6,"t":-49.9,"b":-51.0},{"s":"k","x":24.1,"t":-49.4,"b":-50.6},{"s":"k","x":25.7,"t":-50.6,"b":-52.0},{"s":"k","x":26.3,"t":-50.0,"b":-51.3},{"s":"k","x":27.8,"t":-50.3,"b":-51.5},{"s":"k","x":29.2,"t":-50.2,"b":-51.5},{"s":"k","x":30.2,"t":-52.2,"b":-53.8},
      {"s":"l","x":13.2,"t":-55.0,"b":-56.3},{"s":"l","x":14.2,"t":-55.9,"b":-58.5},{"s":"l","x":14.55,"t":-57.4,"b":-61.5},{"s":"l","x":14.85,"t":-59.0,"b":-63.5},{"s":"l","x":15.1,"t":-59.5,"b":-62.5},{"s":"l","x":15.35,"t":-59.5,"b":-64.5},{"s":"l","x":15.7,"t":-58.6,"b":-62.0},{"s":"l","x":16.0,"t":-57.2,"b":-61.0},{"s":"l","x":16.4,"t":-56.0,"b":-58.5},{"s":"l","x":17.3,"t":-54.6,"b":-55.8},{"s":"l","x":18.7,"t":-53.7,"b":-54.9},{"s":"l","x":20.1,"t":-54.7,"b":-56.0},{"s":"l","x":21.35,"t":-56.6,"b":-60.5},{"s":"l","x":22.8,"t":-54.8,"b":-56.0},{"s":"l","x":24.3,"t":-54.6,"b":-55.8},{"s":"l","x":25.8,"t":-56.8,"b":-58.3},{"s":"l","x":26.6,"t":-56.0,"b":-57.5},{"s":"l","x":28.05,"t":-55.2,"b":-60.0},{"s":"l","x":28.7,"t":-55.4,"b":-58.5},{"s":"l","x":29.1,"t":-55.4,"b":-58.0},{"s":"l","x":29.5,"t":-55.5,"b":-57.8},{"s":"l","x":30.3,"t":-57.5,"b":-59.5},
      {"s":"m","x":13.2,"t":-60.5,"b":-61.8},{"s":"m","x":14.0,"t":-61.0,"b":-62.8},{"s":"m","x":14.5,"t":-62.2,"b":-65.0},{"s":"m","x":14.75,"t":-63.1,"b":-66.5},{"s":"m","x":15.0,"t":-63.5,"b":-70.5},{"s":"m","x":15.3,"t":-63.6,"b":-66.8},{"s":"m","x":15.85,"t":-62.6,"b":-73.5},{"s":"m","x":16.2,"t":-61.7,"b":-66.0},{"s":"m","x":16.6,"t":-60.8,"b":-63.0},{"s":"m","x":17.8,"t":-58.8,"b":-60.0},{"s":"m","x":19.5,"t":-58.5,"b":-59.8},{"s":"m","x":21.3,"t":-61.4,"b":-66.0},{"s":"m","x":22.5,"t":-59.7,"b":-61.0},{"s":"m","x":24.0,"t":-59.3,"b":-60.5},{"s":"m","x":25.5,"t":-61.8,"b":-64.5},{"s":"m","x":25.9,"t":-62.4,"b":-66.5},{"s":"m","x":26.3,"t":-62.3,"b":-65.5},{"s":"m","x":27.4,"t":-61.9,"b":-63.5},{"s":"m","x":29.3,"t":-59.8,"b":-63.5},{"s":"m","x":29.7,"t":-59.8,"b":-62.5},{"s":"m","x":30.1,"t":-60.8,"b":-64.5},{"s":"m","x":30.6,"t":-62.4,"b":-64.0},
      {"s":"n","x":13.0,"t":-64.9,"b":-66.2},{"s":"n","x":14.1,"t":-66.5,"b":-68.5},{"s":"n","x":14.5,"t":-68.6,"b":-72.5},{"s":"n","x":14.8,"t":-70.5,"b":-75.5},{"s":"n","x":15.05,"t":-71.0,"b":-78.5},{"s":"n","x":15.35,"t":-71.1,"b":-76.5},{"s":"n","x":15.65,"t":-70.3,"b":-75.0},{"s":"n","x":16.0,"t":-68.0,"b":-71.5},{"s":"n","x":16.5,"t":-65.8,"b":-68.0},{"s":"n","x":17.6,"t":-64.2,"b":-65.4},{"s":"n","x":19.2,"t":-63.7,"b":-65.0},{"s":"n","x":21.3,"t":-66.4,"b":-70.5},{"s":"n","x":22.7,"t":-64.5,"b":-65.8},{"s":"n","x":24.4,"t":-64.2,"b":-65.5},{"s":"n","x":25.5,"t":-67.0,"b":-70.0},{"s":"n","x":25.9,"t":-67.8,"b":-72.5},{"s":"n","x":26.2,"t":-68.0,"b":-71.0},{"s":"n","x":27.0,"t":-67.3,"b":-69.5},{"s":"n","x":27.9,"t":-67.3,"b":-70.5},{"s":"n","x":29.3,"t":-65.0,"b":-70.0},{"s":"n","x":29.6,"t":-64.8,"b":-71.8},{"s":"n","x":30.3,"t":-66.7,"b":-69.0},
      {"s":"o","x":13.1,"t":-69.9,"b":-71.2},{"s":"o","x":13.9,"t":-71.5,"b":-73.5},{"s":"o","x":14.4,"t":-74.2,"b":-77.5},{"s":"o","x":14.7,"t":-75.6,"b":-79.0},{"s":"o","x":15.0,"t":-76.3,"b":-82.8},{"s":"o","x":15.25,"t":-76.4,"b":-80.5},{"s":"o","x":15.6,"t":-75.9,"b":-79.5},{"s":"o","x":16.0,"t":-74.2,"b":-77.0},{"s":"o","x":16.5,"t":-71.8,"b":-74.5},{"s":"o","x":17.5,"t":-68.9,"b":-70.3},{"s":"o","x":19.0,"t":-68.0,"b":-69.3},{"s":"o","x":20.6,"t":-69.8,"b":-71.3},{"s":"o","x":21.3,"t":-71.0,"b":-74.0},{"s":"o","x":22.8,"t":-69.4,"b":-70.8},{"s":"o","x":24.15,"t":-69.5,"b":-71.2},{"s":"o","x":24.6,"t":-72.5,"b":-84.3},{"s":"o","x":24.9,"t":-76.5,"b":-81.5},{"s":"o","x":25.3,"t":-73.8,"b":-75.8},{"s":"o","x":26.1,"t":-73.4,"b":-75.2},{"s":"o","x":27.0,"t":-73.5,"b":-75.0},{"s":"o","x":28.0,"t":-74.2,"b":-76.5},{"s":"o","x":28.5,"t":-72.8,"b":-75.5},{"s":"o","x":29.4,"t":-73.0,"b":-76.5},{"s":"o","x":29.8,"t":-73.2,"b":-78.5},{"s":"o","x":30.4,"t":-74.6,"b":-77.0}
    ]
  },
  "layer": [
    {
      "data": {"name": "curves"},
      "transform": [{"lookup": "s", "from": {"data": {"name": "names"}, "key": "s", "fields": ["n"]}}],
      "mark": {"type": "line", "strokeWidth": 2.6, "interpolate": "monotone"},
      "encoding": {
        "x": {"field": "x", "type": "quantitative", "scale": {"domain": [12, 32], "nice": false},
              "axis": {"orient": "bottom", "values": [12,14,16,18,20,22,24,26,28,30,32], "labelFlush": false, "labelPadding": 12, "title": "Roll Angle [°]", "titlePadding": 5}},
        "y": {"field": "f", "type": "quantitative", "scale": {"domain": [-100, 10], "nice": false},
              "axis": {"orient": "left", "values": [0,-10,-20,-30,-40,-50,-60,-70,-80,-90], "labelPadding": 9, "title": "Profile deviation [mm]", "titlePadding": 6}},
        "yOffset": {"value": 1.3},
        "detail": {"field": "s"},
        "color": {
          "field": "n", "type": "nominal",
          "scale": {
            "domain": ["Before Run-In", "After Run-In", "LoadStage 3", "LoadStage 5",
                       "LoadStage 7", "LoadStage 9", "1st LoadStage 10", "2nd LoadStage 10",
                       "3rd LoadStage 10", "4th LoadStage 10", "5th LoadStage 10", "6th LoadStage 10",
                       "7th LoadStage 10", "8th LoadStage 10", "9th LoadStage 10", "Iterative filtering result"],
            "range": ["#0072BD", "#EDB120", "#77AC30", "#A2142F",
                      "#D95319", "#7E2F8E", "#4DBEEE", "#0072BD",
                      "#EDB120", "#77AC30", "#A2142F", "#D95319",
                      "#7E2F8E", "#4DBEEE", "#0072BD", "#000000"]
          },
          "legend": {
            "title": null, "orient": "none", "legendX": 105, "legendY": 291, "columns": 4,
            "symbolType": "M-1.7,0H1.7", "symbolSize": 121, "symbolStrokeWidth": 1.2, "labelOffset": 4,
            "labelFontSize": 8.5, "labelFont": "Liberation Sans", "labelColor": "#000000", "labelLimit": 200,
            "strokeColor": "#262626", "fillColor": "white", "padding": 3, "rowPadding": 0, "columnPadding": 4
          }
        }
      }
    },
    {
      "data": {"name": "spikes"},
      "transform": [{"lookup": "s", "from": {"data": {"name": "names"}, "key": "s", "fields": ["n"]}}],
      "mark": {"type": "rule", "strokeWidth": 0.9},
      "encoding": {
        "x": {"field": "x", "type": "quantitative", "scale": {"domain": [12, 32], "nice": false},
              "axis": {"orient": "top", "values": [12,14,16,18,20,22,24,26,28,30,32], "labels": false, "title": null}},
        "y": {"field": "t", "type": "quantitative", "scale": {"domain": [-100, 10], "nice": false},
              "axis": {"orient": "right", "values": [0,-10,-20,-30,-40,-50,-60,-70,-80,-90], "labels": false, "title": null}},
        "y2": {"field": "b"},
        "color": {"field": "n", "type": "nominal"}
      }
    },
    {
      "data": {"name": "curves"},
      "mark": {"type": "line", "strokeWidth": 1.3, "interpolate": "monotone"},
      "encoding": {
        "x": {"field": "x", "type": "quantitative", "scale": {"domain": [12, 32], "nice": false}, "axis": null},
        "y": {"field": "f", "type": "quantitative", "scale": {"domain": [-100, 10], "nice": false}, "axis": null},
        "detail": {"field": "s"},
        "color": {"datum": "Iterative filtering result", "type": "nominal"}
      }
    }
  ],
  "resolve": {"axis": {"x": "independent", "y": "independent"}},
  "config": {
    "font": "Liberation Sans",
    "view": {"stroke": "#262626", "strokeWidth": 0.6},
    "axis": {
      "grid": false, "domain": false, "tickSize": -5, "tickColor": "#262626", "tickWidth": 0.6,
      "labelFont": "Liberation Sans", "labelFontSize": 13, "labelColor": "#262626",
      "titleFont": "Liberation Sans", "titleFontSize": 14.5, "titleFontWeight": "normal", "titleColor": "#262626"
    }
  }
}
